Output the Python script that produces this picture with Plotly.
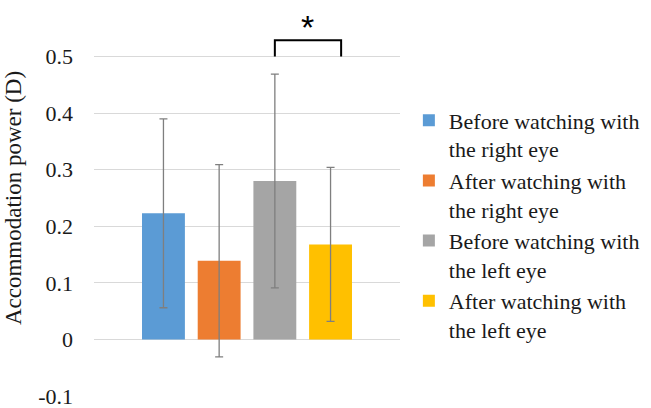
import plotly.graph_objects as go

# Mean accommodation power and standard deviation per condition
conditions = [
    "Before watching with<br>the right eye",
    "After watching with<br>the right eye",
    "Before watching with<br>the left eye",
    "After watching with<br>the left eye",
]
means = [0.223, 0.139, 0.280, 0.168]
sds = [0.167, 0.170, 0.189, 0.136]
colors = ["#5B9BD5", "#ED7D31", "#A5A5A5", "#FFC000"]
positions = [0, 1, 2, 3]
y_ticks = [-0.1, 0, 0.1, 0.2, 0.3, 0.4, 0.5]
y_tick_text = ["-0.1", "0", "0.1", "0.2", "0.3", "0.4", "0.5"]

serif = "Liberation Serif"
text_color = "#1a1a1a"

fig = go.Figure()
for name, m, s, c, p in zip(conditions, means, sds, colors, positions):
    fig.add_trace(go.Bar(
        x=[p], y=[m], name=name, width=0.77,
        marker=dict(color=c, line=dict(width=0)),
        error_y=dict(type="data", array=[s], visible=True,
                     color="#7f7f7f", thickness=1.3, width=4),
    ))

# Significance bracket between the two left-eye conditions
y_base, y_top = 0.5, 0.529
x_left, x_right = positions[2], positions[3] + 0.19
fig.add_shape(type="path",
              path=f"M {x_left},{y_base} L {x_left},{y_top} L {x_right},{y_top} L {x_right},{y_base}",
              xref="x", yref="y", line=dict(color="black", width=2))
fig.add_annotation(x=(x_left + x_right) / 2, y=0.553, xref="x", yref="y",
                   text="*", showarrow=False,
                   font=dict(family="Liberation Sans", size=34, color="black"))

fig.update_layout(
    width=651, height=408,
    margin=dict(l=94, r=251, t=0, b=12),
    paper_bgcolor="white", plot_bgcolor="white",
    barmode="overlay",
    showlegend=True,
    legend=dict(x=1.029, y=0.749, xanchor="left", yanchor="top", valign="top",
                font=dict(family=serif, size=22, color=text_color),
                bgcolor="rgba(0,0,0,0)", tracegroupgap=0),
    xaxis=dict(range=[-1.247, 4.247], showticklabels=False, showgrid=False,
               zeroline=False, showline=False, ticks=""),
    yaxis=dict(range=[-0.1, 0.6], tickvals=y_ticks, ticktext=y_tick_text,
               showgrid=True, gridcolor="#d9d9d9", gridwidth=1,
               zeroline=False, showline=False, ticks="",
               ticklabelstandoff=20, ticklabeloverflow="allow",
               tickfont=dict(family=serif, size=22, color=text_color),
               title=dict(text="Accommodation power (D)", standoff=10,
                          font=dict(family=serif, size=23, color=text_color))),
    font=dict(family=serif),
)

fig.write_html("out.html")
